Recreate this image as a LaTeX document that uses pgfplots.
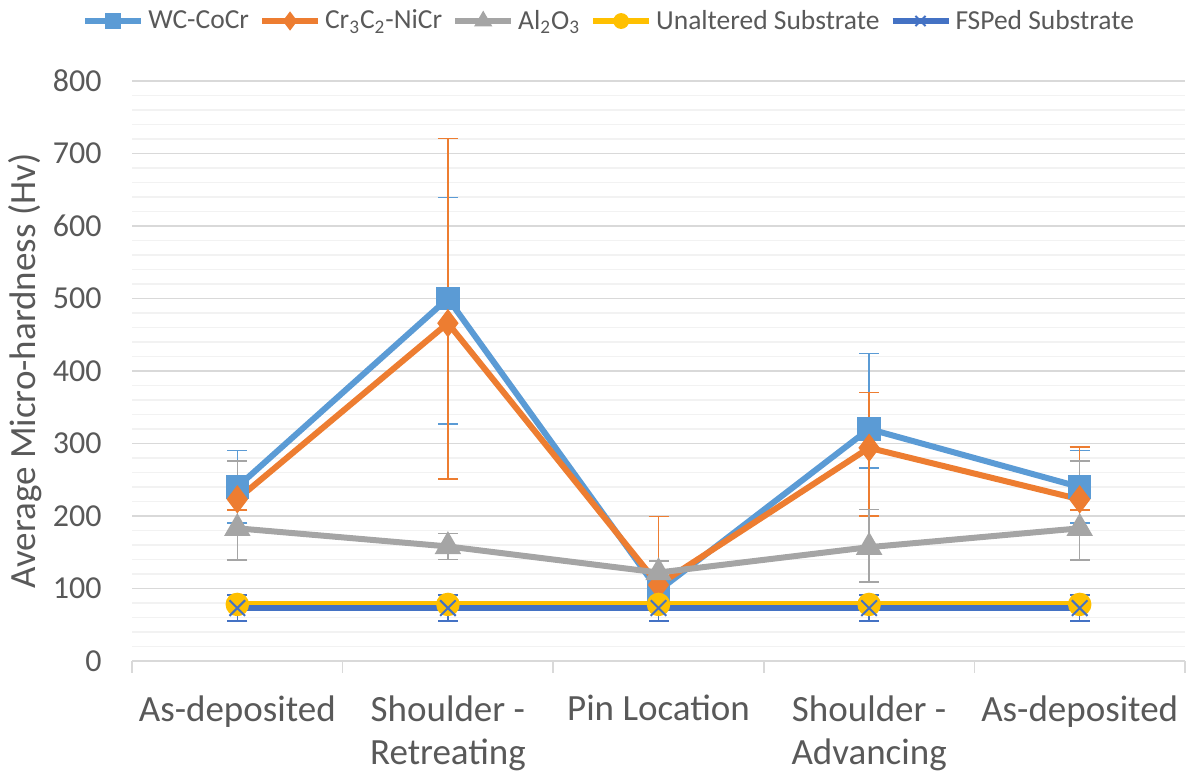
\documentclass[border=0pt]{standalone}
\usepackage{pgfplots}
\pgfplotsset{compat=1.18}
\usepackage{fontspec}
\setmainfont{Carlito}
\definecolor{cwc}{HTML}{5B9BD5}
\definecolor{ccr}{HTML}{ED7D31}
\definecolor{cal}{HTML}{A5A5A5}
\definecolor{cun}{HTML}{FFC000}
\definecolor{cfs}{HTML}{4472C4}
\definecolor{ctext}{HTML}{595959}
\definecolor{cmaj}{HTML}{D9D9D9}
\definecolor{cmin}{HTML}{F2F2F2}
\pgfplotsset{
  ser/.style={line width=3pt, mark options={solid, line width=0.75pt},
    error bars/y dir=both, error bars/y explicit,
    error bars/error bar style={line width=0.75pt},
    error bars/error mark options={rotate=90, mark size=5pt, line width=0.75pt}},
}
\begin{document}
\begin{tikzpicture}
\begin{axis}[
  name=ax,
  scale only axis, width=526.5pt, height=290pt,
  xmin=-0.5, xmax=4.5, ymin=0, ymax=800,
  /pgf/number format/assume math mode=true,
  xtick={0,1,2,3,4},
  xticklabels={As-deposited,{Shoulder -\\Retreating},Pin Location,{Shoulder -\\Advancing},As-deposited},
  minor xtick={-0.5,0.5,1.5,2.5,3.5,4.5},
  ytick={0,100,...,800},
  minor y tick num=4,
  ymajorgrids, yminorgrids,
  major grid style={cmaj, line width=0.75pt},
  minor grid style={cmin, line width=0.75pt},
  axis x line*=bottom, axis y line*=left,
  x axis line style={cmaj, line width=0.75pt},
  y axis line style={draw=none},
  tick align=outside,
  major tick length=0pt,
  minor tick length=6pt,
  xtick style={cmaj, line width=0.75pt},
  ytick style={draw=none},
  yticklabel style={font=\fontsize{16}{19}\selectfont, text=ctext, inner sep=0pt, xshift=-15pt},
  xticklabel style={font=\fontsize{18.5}{21.5}\selectfont, text=ctext, align=center, anchor=north, inner sep=0pt, yshift=-17pt},
  ylabel={Average Micro-hardness (Hv)},
  ylabel style={font=\fontsize{18.5}{22}\selectfont, text=ctext, at={(axis description cs:-0.1016,0.5)}, anchor=center},
  legend columns=5,
  legend style={draw=none, fill=none, inner sep=0pt, at={(axis description cs:-0.0475,1.1034)}, anchor=west,
    font=\fontsize{13.75}{16}\selectfont, text=ctext,
    /tikz/every even column/.append style={column sep=3pt}},
  legend image code/.code={\draw[mark repeat=2, mark phase=2, every mark/.append style={scale=0.65}] plot coordinates {(0pt,0pt) (14pt,0pt) (28pt,0pt)};},
]
\addplot[cwc, ser, mark=square*, mark size=5.5pt] coordinates {
  (0,240) += (0,50) -= (0,50)
  (1,500) += (0,139) -= (0,173)
  (2,97) += (0,10) -= (0,10)
  (3,320) += (0,104) -= (0,54)
  (4,240) += (0,50) -= (0,50)
};
\addlegendentry{WC-CoCr}
\addplot[ccr, ser, mark=diamond*, mark size=6.5pt] coordinates {
  (0,223) += (0,15) -= (0,15)
  (1,466) += (0,255) -= (0,215)
  (2,105) += (0,94) -= (0,20)
  (3,294) += (0,76) -= (0,94)
  (4,223) += (0,72) -= (0,15)
};
\addlegendentry{Cr\textsubscript{3}C\textsubscript{2}-NiCr}
\addplot[cal, ser, mark=triangle*, mark size=6.9pt] coordinates {
  (0,183) += (0,93) -= (0,44)
  (1,158) += (0,18) -= (0,18)
  (2,122) += (0,16) -= (0,16)
  (3,157) += (0,52) -= (0,48)
  (4,183) += (0,93) -= (0,44)
};
\addlegendentry{Al\textsubscript{2}O\textsubscript{3}}
\addplot[cun, line width=3pt, mark=*, mark size=5.5pt, mark options={solid, line width=0.75pt}] coordinates {
  (0,78) (1,78) (2,78) (3,78) (4,78)
};
\addlegendentry{Unaltered Substrate}
\addplot[cfs, ser, mark=x, mark size=5.5pt, mark options={solid, line width=1pt}] coordinates {
  (0,73) += (0,18) -= (0,18)
  (1,73) += (0,18) -= (0,18)
  (2,73) += (0,18) -= (0,18)
  (3,73) += (0,18) -= (0,18)
  (4,73) += (0,18) -= (0,18)
};
\addlegendentry{FSPed Substrate}
\end{axis}
\pgfresetboundingbox
\path ([shift={(-66pt,-57.5pt)}]ax.south west) rectangle ([shift={(2.5pt,40.5pt)}]ax.north east);
\end{tikzpicture}
\end{document}
